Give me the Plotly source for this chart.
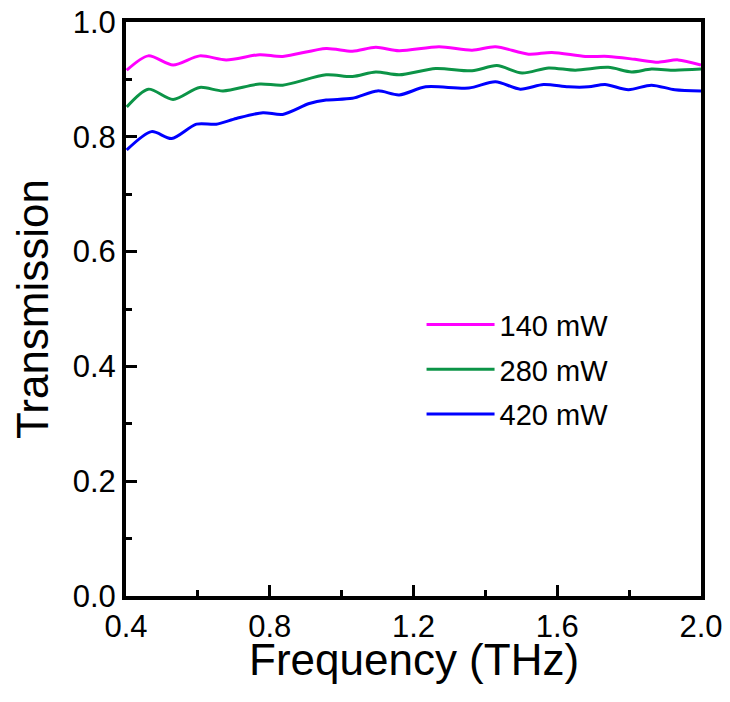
import plotly.graph_objects as go

freq_140 = [0.402, 0.462, 0.531, 0.605, 0.679, 0.772, 0.836, 0.957, 1.03, 1.095, 1.16, 1.271,
            1.363, 1.428, 1.52, 1.585, 1.678, 1.742, 1.816, 1.881, 1.936, 2.0]
trans_140 = [0.916, 0.941, 0.925, 0.941, 0.934, 0.943, 0.940, 0.954, 0.949, 0.956, 0.950, 0.957,
             0.951, 0.957, 0.944, 0.947, 0.940, 0.940, 0.935, 0.930, 0.934, 0.925]

freq_280 = [0.402, 0.462, 0.531, 0.605, 0.67, 0.772, 0.836, 0.957, 1.03, 1.095, 1.16, 1.262,
            1.363, 1.432, 1.502, 1.576, 1.65, 1.742, 1.807, 1.862, 1.927, 2.0]
trans_280 = [0.852, 0.883, 0.865, 0.886, 0.880, 0.892, 0.890, 0.908, 0.905, 0.913, 0.908, 0.919,
             0.915, 0.924, 0.911, 0.920, 0.916, 0.921, 0.913, 0.918, 0.916, 0.918]

freq_420 = [0.402, 0.471, 0.527, 0.596, 0.651, 0.707, 0.781, 0.836, 0.91, 0.957, 1.03, 1.10,
            1.16, 1.234, 1.354, 1.428, 1.497, 1.562, 1.631, 1.687, 1.733, 1.798, 1.862, 1.927, 2.0]
trans_420 = [0.777, 0.809, 0.797, 0.822, 0.822, 0.832, 0.842, 0.839, 0.858, 0.864, 0.867, 0.880,
             0.873, 0.887, 0.885, 0.896, 0.883, 0.891, 0.887, 0.887, 0.891, 0.882, 0.890, 0.882, 0.880]

series = [
    ("140 mW", freq_140, trans_140, "#FF00FF"),
    ("280 mW", freq_280, trans_280, "#0C9447"),
    ("420 mW", freq_420, trans_420, "#0000FF"),
]

FONT = "Liberation Sans, Arial, sans-serif"

fig = go.Figure()
for i, (name, x, y, c) in enumerate(series):
    fig.add_trace(go.Scatter(x=x, y=y, mode="lines", name=name,
                             line=dict(color=c, width=3, shape="spline", smoothing=0.8),
                             legendgroup=str(i)))

axis_common = dict(
    showline=True, linewidth=4, linecolor="black", mirror=True,
    ticks="inside", ticklen=11, tickwidth=3, tickcolor="black",
    showgrid=False, zeroline=False, automargin=False, ticklabeloverflow="allow",
    tickfont=dict(family=FONT, size=31, color="black"),
)

fig.update_xaxes(range=[0.4, 2.0], tickvals=[0.4, 0.8, 1.2, 1.6, 2.0],
                 ticktext=["0.4", "0.8", "1.2", "1.6", "2.0"],
                 minor=dict(tickvals=[0.6, 1.0, 1.4, 1.8], ticks="inside", ticklen=6,
                            tickwidth=3, tickcolor="black"),
                 **axis_common)
fig.update_yaxes(range=[0.0, 1.0], tickvals=[0.0, 0.2, 0.4, 0.6, 0.8, 1.0],
                 ticktext=["0.0", "0.2", "0.4", "0.6", "0.8", "1.0"],
                 minor=dict(tickvals=[0.1, 0.3, 0.5, 0.7, 0.9], ticks="inside", ticklen=6,
                            tickwidth=3, tickcolor="black"),
                 title=dict(text="Transmission", font=dict(family=FONT, size=44, color="black"),
                            standoff=12),
                 **axis_common)

fig.add_annotation(text="Frequency (THz)", xref="paper", yref="paper", x=0.5, y=0,
                   xanchor="center", yanchor="middle", yshift=-63, showarrow=False,
                   font=dict(family=FONT, size=44, color="black"))

fig.update_layout(
    width=714, height=684,
    margin=dict(l=118, r=21, t=14, b=96),
    paper_bgcolor="white", plot_bgcolor="white",
    showlegend=True,
    legend=dict(x=0.514, y=0.517, xanchor="left", yanchor="top",
                font=dict(family=FONT, size=29, color="black"),
                bgcolor="rgba(0,0,0,0)", itemwidth=68, tracegroupgap=4),
)

fig.write_html("out.html")
